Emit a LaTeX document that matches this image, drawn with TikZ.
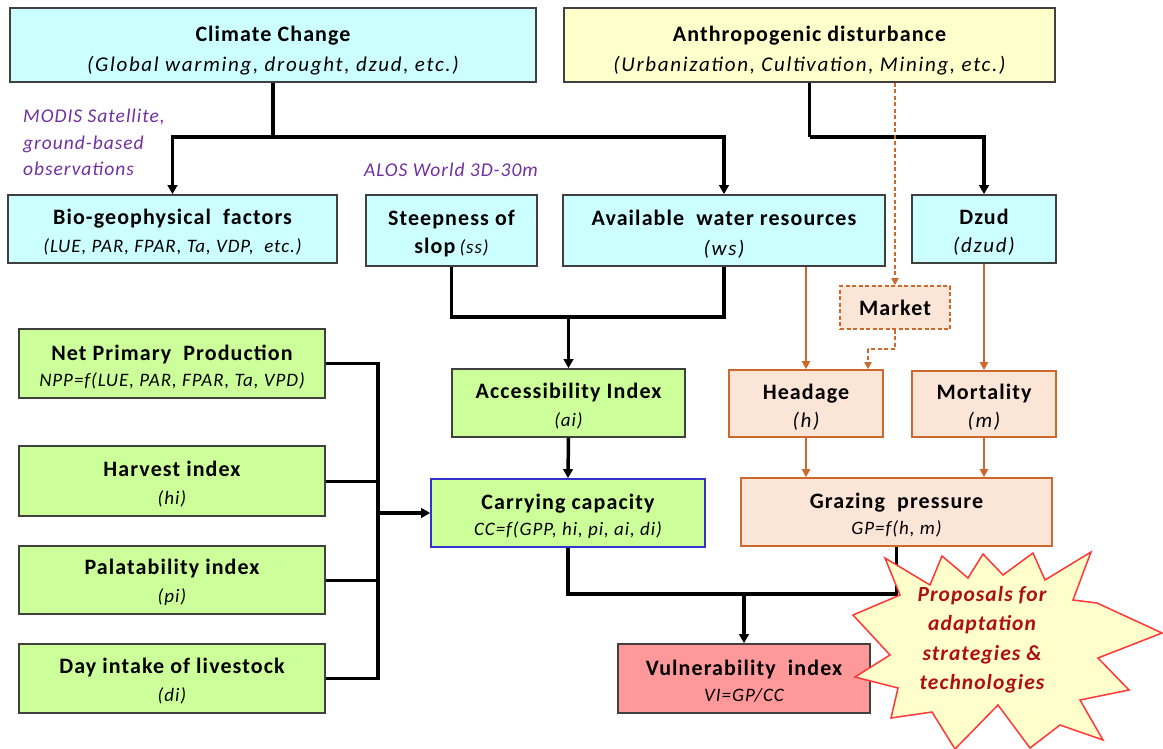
\documentclass[tikz,border=0pt]{standalone}
\usepackage{fontspec}
\setmainfont{Carlito}
\usetikzlibrary{arrows.meta,shadows}
\definecolor{cyanfill}{RGB}{204,255,255}
\definecolor{yelfill}{RGB}{255,255,204}
\definecolor{grnfill}{RGB}{204,255,153}
\definecolor{peachfill}{RGB}{251,229,214}
\definecolor{orgline}{RGB}{205,105,45}
\definecolor{redfill}{RGB}{255,153,153}
\definecolor{bluebd}{RGB}{51,51,204}
\definecolor{purp}{RGB}{112,48,160}
\definecolor{boxgray}{RGB}{64,64,64}
\definecolor{starred}{RGB}{255,55,55}
\definecolor{startxt}{RGB}{175,15,15}
\newcommand\ti[1]{{\fontsize{22}{28}\selectfont\bfseries\addfontfeature{LetterSpace=5}#1}}
\newcommand\su[1]{{\fontsize{21}{28}\selectfont\itshape\addfontfeature{LetterSpace=8}#1}}
\newcommand\sm[1]{{\fontsize{19}{28}\selectfont\itshape\addfontfeature{LetterSpace=5}#1}}
\newcommand\lift[1]{\rule{0pt}{#1}}
\tikzset{
  box/.style={draw=boxgray, line width=1.6pt, align=center, inner sep=0pt,
    font=\fontsize{18}{28}\selectfont,
    drop shadow={shadow xshift=1.3pt, shadow yshift=-1.3pt, fill=black!50, opacity=0.6}},
  obox/.style={draw=orgline, line width=1.6pt, fill=peachfill, align=center, inner sep=0pt,
    font=\fontsize{18}{28}\selectfont},
  conn/.style={draw=black, line width=3.5pt},
  feed/.style={draw=black, line width=3pt},
  arr/.style={conn, -{Triangle[length=9pt,width=9.5pt]}},
  oarr/.style={draw=orgline, line width=2.6pt, -{Triangle[length=8pt,width=8pt]}},
  darr/.style={draw=orgline, line width=1.8pt, dash pattern=on 4pt off 2.5pt, -{Triangle[length=7pt,width=7pt]}},
  dline/.style={draw=orgline, line width=1.8pt, dash pattern=on 4pt off 2.5pt},
  note/.style={text=purp, font=\fontsize{19.5}{26.5}\selectfont\itshape\addfontfeature{LetterSpace=5}, align=left, inner sep=0pt},
}
\begin{document}
\begin{tikzpicture}[x=1pt,y=-1pt]
\useasboundingbox (0,0) rectangle (1163,749);

% top row
\node[box, fill=cyanfill, minimum width=526, minimum height=74] (clim) at (273,45)
  {\lift{26pt}\ti{Climate Change}\\[2pt] \su{(Global warming, drought, dzud, etc.)}};
\node[box, fill=yelfill, minimum width=491, minimum height=74] (anth) at (809.5,45)
  {\lift{26pt}\ti{Anthropogenic disturbance}\\[2pt] \su{(Urbanization, Cultivation, Mining, etc.)}};

% notes
\node[note, anchor=north west] (modis) at (23,109) {MODIS Satellite,\\ ground-based\\ observations};
\node[note, anchor=west] (alos) at (364,170) {ALOS World 3D-30m};

% second row
\node[box, fill=cyanfill, minimum width=329, minimum height=68] (bio) at (172.5,229)
  {\lift{22pt}\ti{Bio-geophysical\ \ factors}\\ \sm{(LUE, PAR, FPAR, Ta, VDP, \ etc.)}};
\node[box, fill=cyanfill, minimum width=171, minimum height=71] (steep) at (451.5,230.5)
  {\lift{21pt}\ti{Steepness of}\\ \ti{slop} \sm{(ss)}};
\node[box, fill=cyanfill, minimum width=322, minimum height=71] (water) at (724,230.5)
  {\lift{22pt}\ti{Available\ \ water resources}\\[2pt] \su{(ws)}};
\node[box, fill=cyanfill, minimum width=144, minimum height=68] (dzud) at (984,229)
  {\lift{22pt}\ti{Dzud}\\ \su{(dzud)}};

\node[obox, dash pattern=on 4pt off 2.5pt, minimum width=110, minimum height=43] (market) at (895,307.5)
  {\ti{Market}};

% third row
\node[box, fill=grnfill, minimum width=306, minimum height=69] (npp) at (172,363.5)
  {\lift{22pt}\ti{Net Primary\ \ Production}\\[-2pt] \sm{NPP=f(LUE, PAR, FPAR, Ta, VPD)}};
\node[box, fill=grnfill, minimum width=233, minimum height=68] (access) at (568.5,403)
  {\lift{22pt}\ti{Accessibility Index}\\ \sm{(ai)}};
\node[obox, minimum width=154, minimum height=67] (head) at (806,403.5)
  {\lift{22pt}\ti{Headage}\\ \su{(h)}};
\node[obox, minimum width=144, minimum height=66] (mort) at (984,404)
  {\lift{22pt}\ti{Mortality}\\ \su{(m)}};

\node[box, fill=grnfill, minimum width=306, minimum height=70] (harv) at (172,481)
  {\lift{21pt}\ti{Harvest index}\\ \sm{(hi)}};
\node[box, fill=grnfill, draw=bluebd, minimum width=274, minimum height=68] (carry) at (568,513)
  {\lift{22pt}\ti{Carrying capacity}\\[-2pt] \sm{CC=f(GPP, hi, pi, ai, di)}};
\node[obox, minimum width=311, minimum height=68] (graz) at (896.5,512)
  {\lift{22pt}\ti{Grazing\ \ pressure}\\[-2pt] \sm{GP=f(h, m)}};

\node[box, fill=grnfill, minimum width=306, minimum height=68] (pal) at (172,580)
  {\lift{21pt}\ti{Palatability index}\\ \sm{(pi)}};
\node[box, fill=grnfill, minimum width=306, minimum height=69] (day) at (172,678.5)
  {\lift{20pt}\ti{Day intake of livestock}\\ \sm{(di)}};
\node[box, fill=redfill, minimum width=252, minimum height=69] (vuln) at (744,678.5)
  {\lift{20pt}\ti{Vulnerability\ \ index}\\[-2pt] \sm{VI=GP/CC}};

% junction coordinates
\coordinate (j1) at (273,137);
\coordinate (j2) at (anth.south |- j1);
\coordinate (j3) at (568.5,317);
\coordinate (m2) at (868,349);
\coordinate (busT) at (378,363.5);
\coordinate (busB) at (378,678.5);
\coordinate (j5) at (744,594);

% connectors (black)
\draw[conn] (clim.south) -- (j1);
\draw[conn] (anth.south) -- (j2);
\draw[arr] (j1) -| (bio.north);
\draw[arr] (j1) -| (water.north);
\draw[arr] (j2) -| (dzud.north);

\draw[conn] (steep.south) |- (j3) -| (water.south);
\draw[arr] (j3) -- (access.north);

\draw[conn] (npp.east) -- (busT) -- (busB) -- (day.east);
\draw[feed] (harv.east) -- (harv.east -| busT);
\draw[feed] (pal.east) -- (pal.east -| busT);
\draw[arr] (carry.west -| busT) -- (carry.west);
\draw[arr] (access.south) -- (carry.north);

\draw[conn] (carry.south) |- (j5) -| (graz.south);
\draw[arr] (j5) -- (vuln.north);

% orange connectors
\draw[darr] (anth.south -| market.north) -- (market.north);
\draw[dline] (market.south) |- (m2);
\draw[darr] (m2) -- (m2 |- head.north);
\draw[oarr] (water.south -| head.north) -- (head.north);
\draw[oarr] (dzud.south) -- (mort.north);
\draw[oarr] (head.south) -- (head.south |- graz.north);
\draw[oarr] (mort.south) -- (mort.south |- graz.north);

% starburst
\draw[draw=starred, line width=1.5pt, fill=yelfill, line join=miter]
  (885,558) -- (930,585) -- (942,556) -- (968,578) -- (983,554) -- (1003,575)
  -- (1033,553) -- (1045,580) -- (1091,552) -- (1073,600) -- (1097,603)
  -- (1162,633) -- (1098,658) -- (1129,690) -- (1080,700) -- (1103,740)
  -- (1060,725) -- (1030,748) -- (998,705) -- (955,749) -- (932,712)
  -- (891,718) -- (898,688) -- (855,677) -- (890,655) -- (853,615)
  -- (900,595) -- cycle;
\node[text=startxt, font=\fontsize{21.5}{29.5}\selectfont\bfseries\itshape\addfontfeature{LetterSpace=5}, align=center] (prop) at (982,640)
  {Proposals for\\ adaptation\\ strategies \&\\ technologies};
\end{tikzpicture}
\end{document}
